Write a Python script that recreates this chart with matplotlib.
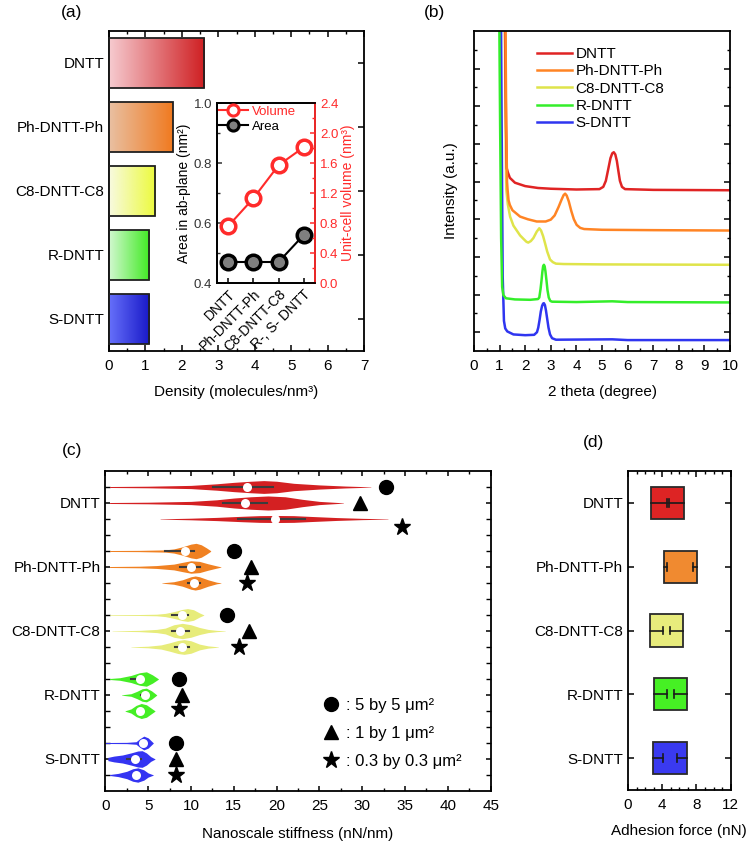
import numpy as np
import matplotlib
matplotlib.use('Agg')
import matplotlib.pyplot as plt
from matplotlib.lines import Line2D
from matplotlib.ticker import MultipleLocator, FixedLocator, NullFormatter
from matplotlib.colors import to_rgb

plt.rcParams['font.family'] = ['Liberation Sans', 'DejaVu Sans']
plt.rcParams['font.size'] = 11
plt.rcParams['xtick.direction'] = 'in'
plt.rcParams['ytick.direction'] = 'in'
plt.rcParams['axes.linewidth'] = 1.3
plt.rcParams['xtick.major.width'] = 1.1
plt.rcParams['ytick.major.width'] = 1.1
plt.rcParams['xtick.minor.width'] = 1.0
plt.rcParams['ytick.minor.width'] = 1.0
plt.rcParams['xtick.major.pad'] = 5.5

# ---------------- data ----------------
materials = ['DNTT', 'Ph-DNTT-Ph', 'C8-DNTT-C8', 'R-DNTT', 'S-DNTT']
density = [2.61, 1.75, 1.27, 1.10, 1.10]
grad_left = ['#f6cbd0', '#e9c0a2', '#f8fae0', '#d2f8d0', '#6670fa']
grad_right = ['#cf1f22', '#f07a20', '#ecfa3c', '#40ea22', '#1818c8']

inset_labels = ['DNTT', 'Ph-DNTT-Ph', 'C8-DNTT-C8', 'R-, S- DNTT']
area = [0.47, 0.47, 0.47, 0.56]
volume = [0.76, 1.13, 1.57, 1.81]

# XRD curves (2 theta, offset intensity)
dntt_x = [1.20, 1.25, 1.28, 1.32, 1.40, 1.6, 2.0, 2.5, 3.0, 4.0, 4.9, 5.05, 5.15, 5.25, 5.33, 5.40, 5.46, 5.52,
          5.58, 5.64, 5.70, 5.78, 5.90, 7.0, 10.0]
dntt_y = [9.5, 6.0, 4.85, 4.75, 4.60, 4.47, 4.38, 4.33, 4.31, 4.29, 4.30, 4.36, 4.52, 4.85, 5.12, 5.25, 5.28, 5.22,
          5.05, 4.78, 4.52, 4.36, 4.30, 4.28, 4.27]
ph_x = [1.22, 1.26, 1.29, 1.31, 1.35, 1.40, 1.5, 1.8, 2.1, 2.45, 2.8, 3.0, 3.15, 3.30, 3.42, 3.50, 3.56, 3.62,
        3.70, 3.80, 3.90, 4.01, 4.15, 4.30, 5.0, 7.0, 10.0]
ph_y = [9.5, 6.0, 4.5, 4.30, 4.0, 3.88, 3.74, 3.57, 3.50, 3.44, 3.44, 3.49, 3.60, 3.82, 4.02, 4.14, 4.18, 4.13,
        3.98, 3.72, 3.50, 3.35, 3.27, 3.24, 3.22, 3.21, 3.20]
c8_x = [1.20, 1.23, 1.26, 1.32, 1.41, 1.54, 1.67, 1.8, 1.93, 2.05, 2.12, 2.22, 2.32, 2.45, 2.55, 2.62, 2.70,
        2.78, 2.86, 2.97, 3.08, 3.2, 3.5, 5.0, 10.0]
c8_y = [9.5, 6.0, 4.3, 3.9, 3.57, 3.33, 3.20, 3.07, 2.98, 2.90, 2.88, 2.92, 3.0, 3.17, 3.26, 3.20, 3.05,
        2.85, 2.64, 2.43, 2.36, 2.32, 2.31, 2.30, 2.29]
r_x = [0.98, 1.02, 1.06, 1.10, 1.15, 1.25, 1.6, 2.2, 2.50, 2.55, 2.60, 2.64, 2.67, 2.70, 2.73, 2.76, 2.79, 2.83,
       2.87, 2.92, 2.98, 3.05, 4.0, 5.4, 6.0, 10.0]
r_y = [9.5, 6.0, 3.0, 1.7, 1.48, 1.40, 1.37, 1.36, 1.38, 1.42, 1.65, 1.89, 2.10, 2.25, 2.29, 2.25, 2.12, 1.88,
       1.62, 1.42, 1.33, 1.31, 1.30, 1.32, 1.30, 1.29]
s_x = [1.05, 1.08, 1.12, 1.17, 1.22, 1.30, 1.54, 2.0, 2.35, 2.46, 2.51, 2.56, 2.61, 2.66, 2.70, 2.73, 2.77, 2.81,
       2.86, 2.91, 2.97, 3.05, 3.2, 5.4, 6.0, 10.0]
s_y = [9.5, 6.0, 2.0, 0.80, 0.60, 0.52, 0.44, 0.42, 0.43, 0.50, 0.62, 0.82, 1.05, 1.20, 1.26, 1.27, 1.22, 1.08,
       0.85, 0.62, 0.44, 0.34, 0.30, 0.31, 0.29, 0.29]
xrd_colors = ['#e02424', '#ff8424', '#dfe44a', '#34ee2a', '#2f35f0']

# violin profiles (stiffness, half-width in row units), 3 scan sizes per material
vio_x = [
    [0.5, 5, 10, 13, 15, 17, 18.5, 20, 22, 25, 28, 31],
    [0.5, 5, 10, 13, 15, 17, 19, 21, 23, 25, 27.8],
    [6.4, 10, 13, 16, 18, 20, 22, 24, 27, 30, 33],
    [0.5, 4, 7, 8, 9, 10, 10.6, 11.2, 11.8, 12.3],
    [0.5, 4, 6, 8, 9, 10, 11, 12, 13, 13.5],
    [6.6, 8, 9, 10, 10.5, 11, 12, 13, 13.5],
    [0.5, 4, 6, 7, 8, 9, 9.6, 10.3, 11, 11.5],
    [0.8, 4, 6, 7, 8, 9, 10, 11, 12, 13, 14],
    [3.0, 5, 6.5, 7.5, 8.5, 9.2, 10, 11, 12, 13.2],
    [0.5, 1.7, 3.0, 4.0, 4.8, 5.5, 6.2],
    [1.9, 3.0, 3.7, 4.3, 4.8, 5.4, 6.0],
    [2.3, 3.0, 3.6, 4.2, 4.8, 5.3, 5.8],
    [0.0, 2.5, 3.6, 4.0, 4.5, 5.0, 5.6],
    [0.3, 1.0, 2.0, 3.0, 3.8, 4.3, 4.8, 5.3, 5.8],
    [0.5, 1.5, 2.5, 3.2, 3.8, 4.5, 5.0, 5.6],
]
vio_w = [
    [0.03, 0.05, 0.10, 0.20, 0.29, 0.36, 0.40, 0.36, 0.23, 0.13, 0.06, 0.01],
    [0.03, 0.05, 0.10, 0.20, 0.31, 0.39, 0.44, 0.39, 0.23, 0.10, 0.01],
    [0.01, 0.05, 0.10, 0.17, 0.21, 0.22, 0.21, 0.16, 0.09, 0.04, 0.01],
    [0.03, 0.04, 0.07, 0.13, 0.26, 0.43, 0.48, 0.39, 0.20, 0.02],
    [0.03, 0.05, 0.09, 0.18, 0.29, 0.39, 0.35, 0.20, 0.07, 0.01],
    [0.01, 0.08, 0.20, 0.39, 0.44, 0.39, 0.20, 0.05, 0.01],
    [0.02, 0.03, 0.05, 0.10, 0.21, 0.35, 0.40, 0.33, 0.13, 0.01],
    [0.01, 0.04, 0.10, 0.18, 0.39, 0.48, 0.39, 0.22, 0.10, 0.04, 0.01],
    [0.01, 0.05, 0.13, 0.26, 0.41, 0.46, 0.39, 0.18, 0.07, 0.01],
    [0.03, 0.08, 0.22, 0.39, 0.45, 0.26, 0.01],
    [0.01, 0.08, 0.23, 0.39, 0.43, 0.26, 0.01],
    [0.01, 0.13, 0.35, 0.47, 0.39, 0.20, 0.01],
    [0.03, 0.04, 0.08, 0.26, 0.43, 0.32, 0.01],
    [0.10, 0.18, 0.25, 0.38, 0.50, 0.52, 0.38, 0.15, 0.01],
    [0.03, 0.10, 0.23, 0.39, 0.45, 0.32, 0.13, 0.01],
]
vio_median = [16.6, 16.3, 19.8, 9.3, 10.0, 10.4, 9.0, 8.7, 9.0, 4.1, 4.6, 4.1, 4.4, 3.5, 3.6]
vio_q1 = [12.6, 13.7, 15.5, 7.0, 8.7, 9.6, 7.8, 7.8, 8.1, 3.0, 4.2, 3.8, 4.0, 2.5, 3.2]
vio_q3 = [19.6, 18.9, 23.3, 10.3, 11.0, 11.0, 9.7, 9.8, 9.8, 4.3, 4.9, 4.4, 4.8, 4.2, 4.0]
vio_colors = ['#d42022', '#f08122', '#e7ec7a', '#45ee25', '#3434f2']

# mean stiffness by scan size
stiff_5um = [32.75, 15.0, 14.2, 8.57, 8.2]
stiff_1um = [29.7, 17.0, 16.8, 8.9, 8.3]
stiff_03um = [34.6, 16.5, 15.6, 8.65, 8.3]
scan_labels = [': 5 by 5 μm²', ': 1 by 1 μm²', ': 0.3 by 0.3 μm²']

# adhesion force
adh_lo = [2.69, 4.17, 2.57, 3.00, 2.92]
adh_hi = [6.58, 8.10, 6.39, 6.86, 6.86]
adh_cap_lo = [4.52, 4.60, 4.13, 4.52, 4.05]
adh_cap_hi = [4.79, 7.64, 4.91, 5.38, 5.77]
adh_colors = ['#dd2424', '#f08a30', '#e8ec7c', '#46f024', '#3a3af0']

# ---------------- figure ----------------
W, H = 750, 841
fig = plt.figure(figsize=(W / 100, H / 100), dpi=100)


def rect(l, r, t, b):
    return [l / W, 1 - b / H, (r - l) / W, (b - t) / H]


# ---- (a) ----
axa = fig.add_axes(rect(109, 364, 31, 351))
ypos = np.arange(len(materials))
bars = axa.barh(ypos, density, height=0.77, color='none', edgecolor='#202020', lw=1.3, zorder=3)
for i, b in enumerate(bars):
    c0 = np.array(to_rgb(grad_left[i]))
    c1 = np.array(to_rgb(grad_right[i]))
    t = np.linspace(0, 1, 256)[None, :, None]
    img = c0[None, None, :] * (1 - t) + c1[None, None, :] * t
    x0, y0 = b.get_x(), b.get_y()
    im = axa.imshow(img, extent=(x0, x0 + b.get_width(), y0 + b.get_height(), y0),
                    aspect='auto', zorder=2, interpolation='bilinear')
    im.set_clip_path(b)
axa.set_xlim(0, 7)
axa.set_ylim(4.5, -0.5)
axa.set_yticks(ypos)
axa.set_yticklabels(materials, fontsize=11)
axa.xaxis.set_major_locator(MultipleLocator(1))
axa.xaxis.set_minor_locator(MultipleLocator(0.5))
axa.tick_params(axis='both', which='both', top=True, right=True, labelsize=11)
axa.tick_params(axis='y', which='major', length=4)
axa.tick_params(axis='x', which='major', length=4)
axa.tick_params(axis='x', which='minor', length=2)
axa.set_xlabel('Density (molecules/nm³)', fontsize=11, labelpad=9)

# inset
axi = fig.add_axes(rect(217, 315, 103, 283))
axr = axi.twinx()
xi = np.arange(len(inset_labels))
axi.plot(xi, area, '-o', color='black', mfc='#7f7f7f', mec='black', ms=10.5, mew=2.5, lw=1.5)
axr.plot(xi, volume, '-o', color='#ff2b2b', mfc='white', mec='#ff2b2b', ms=10.5, mew=2.5, lw=1.5)
axi.set_xlim(-0.45, 3.45)
axi.set_ylim(0.4, 1.0)
axr.set_ylim(0.0, 2.4)
axi.set_xticks(xi)
axi.set_xticklabels(inset_labels, rotation=45, ha='right', rotation_mode='anchor', fontsize=10)
axi.yaxis.set_major_locator(MultipleLocator(0.2))
axi.yaxis.set_minor_locator(MultipleLocator(0.1))
axr.yaxis.set_major_locator(MultipleLocator(0.4))
axr.yaxis.set_minor_locator(MultipleLocator(0.2))
axi.tick_params(axis='y', which='both', labelsize=9.5, colors='#333333')
axi.tick_params(axis='y', which='major', length=3.5)
axi.tick_params(axis='y', which='minor', length=2)
axi.tick_params(axis='x', which='major', length=3.5, labelsize=10, pad=3)
axr.tick_params(axis='y', which='both', labelsize=9.5, colors='#ff2b2b')
axr.tick_params(axis='y', which='major', length=3.5)
axr.tick_params(axis='y', which='minor', length=2)
axr.spines['right'].set_color('#ff2b2b')
axi.set_ylabel('Area in ab-plane (nm²)', fontsize=10, labelpad=2)
axr.set_ylabel('Unit-cell volume (nm³)', fontsize=10, color='#ff2b2b', labelpad=2)
hv = Line2D([], [], color='#ff2b2b', marker='o', mfc='white', mec='#ff2b2b', ms=8, mew=2.2, lw=1.5)
ha = Line2D([], [], color='black', marker='o', mfc='#7f7f7f', mec='black', ms=8, mew=2.2, lw=1.5)
leg = axr.legend([hv, ha], ['Volume', 'Area'], loc='upper left', bbox_to_anchor=(0.02, 0.985),
                 frameon=False, fontsize=9.5, handlelength=2.2, handletextpad=0.3,
                 labelspacing=0.2, borderpad=0, borderaxespad=0)
leg.get_texts()[0].set_color('#ff2b2b')

# ---- (b) ----
axb = fig.add_axes(rect(474, 730, 31, 351))
curves = [(dntt_x, dntt_y), (ph_x, ph_y), (c8_x, c8_y), (r_x, r_y), (s_x, s_y)]
handles = [None] * 5
for i in [4, 3, 2, 0, 1]:
    cx, cy = curves[i]
    ln, = axb.plot(cx, cy, color=xrd_colors[i], lw=1.8, solid_joinstyle='round')
    handles[i] = ln
axb.set_xlim(0, 10)
axb.set_ylim(0, 8.5)
axb.xaxis.set_major_locator(MultipleLocator(1))
axb.xaxis.set_minor_locator(MultipleLocator(0.5))
axb.yaxis.set_major_locator(FixedLocator(np.arange(0.5, 8.5, 1.0)))
axb.yaxis.set_minor_locator(FixedLocator(np.arange(1.0, 8.5, 1.0)))
axb.yaxis.set_major_formatter(NullFormatter())
axb.tick_params(axis='y', which='both', right=True)
axb.tick_params(axis='both', which='major', length=4, labelsize=11)
axb.tick_params(axis='both', which='minor', length=2)
axb.set_xlabel('2 theta (degree)', fontsize=11, labelpad=9)
axb.set_ylabel('Intensity (a.u.)', fontsize=11, labelpad=8)
axb.legend(handles, materials, loc='upper left', bbox_to_anchor=(0.245, 0.95), frameon=False,
           fontsize=11, handlelength=2.3, handletextpad=0.25, labelspacing=0.22,
           borderpad=0, borderaxespad=0)

# ---- (c) ----
axc = fig.add_axes(rect(105.3, 490.7, 471, 791))
cat_rows = [1, 5, 9, 13, 17]
for k in range(15):
    row = (k // 3) * 4 + (k % 3)
    col = vio_colors[k // 3]
    vx = np.array(vio_x[k])
    vw = np.array(vio_w[k])
    axc.fill_between(vx, row - vw, row + vw, color=col, lw=0, zorder=2)
    axc.plot([vio_q1[k], vio_q3[k]], [row, row], color='#3c3c3c', lw=1.5, zorder=3)
    axc.plot([vio_median[k]], [row], 'o', color='white', ms=6.5, mec='none', zorder=4)
rows5 = [r - 1 for r in cat_rows]
rows1 = list(cat_rows)
rows03 = [r + 1 for r in cat_rows]
rows03[0] = 2.5
rows03[3] = 13.9
axc.plot(stiff_5um, rows5, 'o', color='black', ms=10, ls='none', zorder=5)
axc.plot(stiff_1um, rows1, '^', color='black', ms=10, ls='none', zorder=5)
axc.plot(stiff_03um, rows03, '*', color='black', ms=12.5, ls='none', zorder=5)
axc.set_xlim(0, 45)
axc.set_ylim(19, -1)
axc.set_yticks(cat_rows)
axc.set_yticklabels(materials, fontsize=11)
axc.yaxis.set_minor_locator(FixedLocator([r for r in range(19) if r not in cat_rows]))
axc.xaxis.set_major_locator(MultipleLocator(5))
axc.xaxis.set_minor_locator(MultipleLocator(2.5))
axc.tick_params(axis='both', which='both', top=True, right=True, labelsize=11)
axc.tick_params(axis='both', which='major', length=3.5)
axc.tick_params(axis='y', which='minor', length=3.5)
axc.tick_params(axis='x', which='minor', length=2.5)
axc.set_xlabel('Nanoscale stiffness (nN/nm)', fontsize=11, labelpad=10)
lh = [Line2D([], [], marker='o', color='black', ms=10, ls='none'),
      Line2D([], [], marker='^', color='black', ms=10, ls='none'),
      Line2D([], [], marker='*', color='black', ms=12.5, ls='none')]
axc.legend(lh, scan_labels, loc='upper left', bbox_to_anchor=(0.565, 0.29), frameon=False,
           fontsize=12, handlelength=1.0, handletextpad=0.4, labelspacing=0.78,
           borderpad=0, borderaxespad=0)

# ---- (d) ----
axd = fig.add_axes(rect(628, 730.7, 471, 790))
for i, r in enumerate(cat_rows):
    axd.barh(r, adh_hi[i] - adh_lo[i], left=adh_lo[i], height=2.03, color=adh_colors[i],
             edgecolor='#2a2a2a', lw=1.3, zorder=2)
    axd.plot([adh_lo[i], adh_cap_lo[i]], [r, r], color='#1a1a1a', lw=1.2, zorder=3)
    axd.plot([adh_cap_hi[i], adh_hi[i]], [r, r], color='#1a1a1a', lw=1.2, zorder=3)
    for cx in (adh_cap_lo[i], adh_cap_hi[i]):
        axd.plot([cx, cx], [r - 0.24, r + 0.24], color='#1a1a1a', lw=1.2, zorder=3)
axd.set_xlim(0, 12)
axd.set_ylim(19, -1)
axd.set_yticks(cat_rows)
axd.set_yticklabels(materials, fontsize=11)
axd.xaxis.set_major_locator(MultipleLocator(4))
axd.xaxis.set_minor_locator(MultipleLocator(1))
axd.tick_params(axis='both', which='both', top=True, right=True, labelsize=11)
axd.tick_params(axis='both', which='major', length=4)
axd.tick_params(axis='x', which='minor', length=2.5)
axd.set_xlabel('Adhesion force (nN)', fontsize=11, labelpad=9)

# panel labels
fig.text(72 / W, 1 - 12 / H, '(a)', fontsize=12.5, ha='center', va='center')
fig.text(435 / W, 1 - 12 / H, '(b)', fontsize=12.5, ha='center', va='center')
fig.text(72 / W, 1 - 450 / H, '(c)', fontsize=12.5, ha='center', va='center')
fig.text(593 / W, 1 - 443 / H, '(d)', fontsize=12.5, ha='center', va='center')

fig.savefig('out.png', dpi=100)
